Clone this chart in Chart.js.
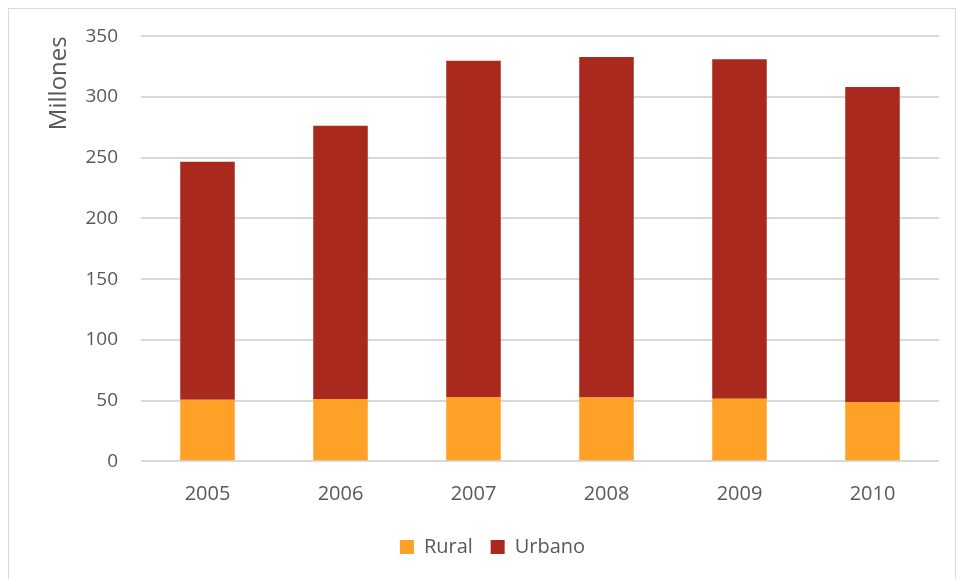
<!DOCTYPE html>
<html>
<head>
<meta charset="utf-8">
<script src="https://cdn.jsdelivr.net/npm/chart.js@4/dist/chart.umd.min.js"></script>
<style>
    body { margin: 0; background: #fff; }
    #wrap { position: relative; width: 958px; height: 579px; }
    #frame { position: absolute; left: 8px; top: 8px; width: 948px; height: 580px; border: 1px solid #d9d9d9; box-sizing: border-box; }
    #myChart { position: absolute; left: 0; top: 0; }
</style>
</head>
<body>
<div id="wrap">
    <div id="frame"></div>
    <canvas id="myChart" width="958" height="579"></canvas>
</div>
<script>
const years = ["2005", "2006", "2007", "2008", "2009", "2010"]
const rural = [50.6, 51.2, 52.8, 52.5, 51.4, 48.7]
const urbano = [196.1, 225.2, 277.1, 280.5, 279.6, 259.5]
const yTicks = [0, 50, 100, 150, 200, 250, 300, 350]

const textColor = "#595959"
const fontFamily = "'Open Sans', sans-serif"

// legend in the original sits a bit right of the plain centre
const shiftLegend = {
    id: "shiftLegend",
    afterLayout(chart) {
        chart.legend.left += 23
        chart.legend.right += 23
    }
}

new Chart(document.getElementById("myChart"), {
    type: "bar",
    data: {
        labels: years,
        datasets: [
            { label: "Rural", data: rural, backgroundColor: "#ffa127" },
            { label: "Urbano", data: urbano, backgroundColor: "#a9291e" }
        ]
    },
    plugins: [shiftLegend],
    options: {
        responsive: false,
        animation: false,
        layout: { padding: { left: 0, right: 19, top: 36.3, bottom: 12 } },
        datasets: { bar: { barPercentage: 0.41, categoryPercentage: 1 } },
        plugins: {
            tooltip: { enabled: false },
            legend: {
                position: "bottom",
                labels: {
                    color: textColor,
                    font: { family: fontFamily, size: 20 },
                    boxWidth: 14, boxHeight: 14, padding: 17.8
                }
            }
        },
        scales: {
            x: {
                stacked: true,
                grid: { display: false },
                border: { display: false },
                ticks: { color: textColor, font: { family: fontFamily, size: 20 }, padding: 13 }
            },
            y: {
                stacked: true,
                min: 0, max: 350,
                afterBuildTicks: (scale) => { scale.ticks = yTicks.map(v => ({ value: v })) },
                afterFit: (scale) => { scale.width = 141 },
                grid: { color: "#d9d9d9", lineWidth: 2, drawTicks: false },
                border: { display: false },
                ticks: { color: textColor, font: { family: fontFamily, size: 19 }, padding: 23 },
                title: {
                    display: true, text: "Millones", align: "end",
                    color: textColor, font: { family: fontFamily, size: 24 },
                    padding: { top: 45, bottom: 0 }
                }
            }
        }
    }
})
</script>
</body>
</html>
